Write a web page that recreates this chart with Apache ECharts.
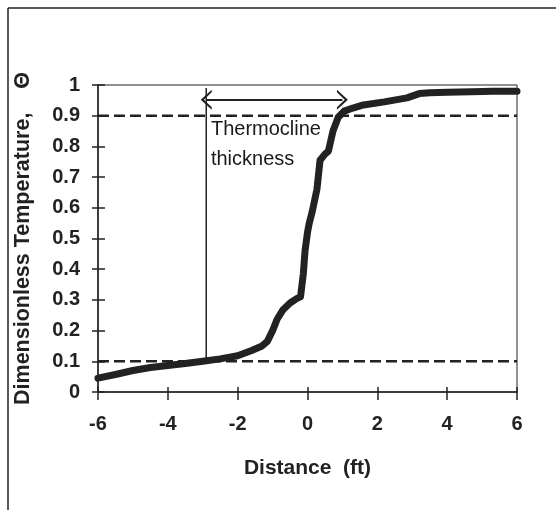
<!DOCTYPE html>
<html>
<head>
<meta charset="utf-8">
<script src="https://cdn.jsdelivr.net/npm/echarts@6/dist/echarts.min.js"></script>
<style>
html,body{margin:0;padding:0;background:#fff;}
#chart{width:556px;height:510px;}
</style>
</head>
<body>
<div id="chart"></div>
<script>
// Measured temperature profile
const distance = [-6, -5.5, -5, -4.5, -4, -3.5, -3, -2.5, -2, -1.6, -1.3, -1.15, -1.0, -0.87, -0.7, -0.5, -0.3, -0.2, -0.12, -0.07, 0.0, 0.05, 0.13, 0.27, 0.36, 0.5, 0.6, 0.73, 0.88, 1.05, 1.3, 1.6, 2.2, 2.85, 3.2, 3.5, 4.0, 4.7, 5.3, 6.0];
const theta    = [0.045, 0.057, 0.07, 0.08, 0.086, 0.093, 0.1, 0.108, 0.118, 0.135, 0.15, 0.165, 0.2, 0.237, 0.268, 0.29, 0.305, 0.31, 0.385, 0.46, 0.52, 0.55, 0.585, 0.66, 0.755, 0.775, 0.785, 0.85, 0.895, 0.915, 0.925, 0.935, 0.945, 0.958, 0.972, 0.975, 0.976, 0.978, 0.98, 0.98];
// Reference levels (dashed)
const levels = [0.1, 0.9];
// Thermocline annotation
const thermoStart = -2.9;
const thermoEnd = 1.0;
const arrowY = 0.952;
const vLineBottom = 0.104;
const vLineTop = 0.99;
const labelPos = [-2.78, 0.805];
// Tick labels
const xTicks = ['-6', '-4', '-2', '0', '2', '4', '6'];
const yTicks = ['0', '0.1', '0.2', '0.3', '0.4', '0.5', '0.6', '0.7', '0.8', '0.9', '1'];

const INK = '#222';
const FONT = 'Liberation Sans, Arial, sans-serif';
const chevron = 'path://M10,0 L20,11 L17.5,11 L10,3.2 L2.5,11 L0,11 Z';

const curve = distance.map((d, i) => [d, theta[i]]);

const chart = echarts.init(document.getElementById('chart'));
const baseX = {type: 'value', min: -6, max: 6, interval: 2, gridIndex: 0};
const baseY = {type: 'value', min: 0, max: 1, interval: 0.1, gridIndex: 0};

chart.setOption({
  backgroundColor: '#fff',
  animation: false,
  graphic: [
    {type: 'line', shape: {x1: 8, y1: 8, x2: 556, y2: 8}, style: {stroke: INK, lineWidth: 1.5}},
    {type: 'line', shape: {x1: 8, y1: 8, x2: 8, y2: 510}, style: {stroke: INK, lineWidth: 1.5}}
  ],
  grid: {left: 98, right: 39, top: 85, bottom: 118, show: true, borderColor: INK, borderWidth: 1, backgroundColor: 'transparent'},
  xAxis: [
    Object.assign({}, baseX, {
      name: 'Distance  (ft)', nameLocation: 'middle', nameGap: 66,
      nameTextStyle: {fontFamily: FONT, fontSize: 21, fontWeight: 'bold', color: INK},
      axisLine: {show: true, onZero: false, lineStyle: {color: INK, width: 1.5}},
      axisTick: {show: true, length: 8, lineStyle: {color: INK, width: 1.5}},
      axisLabel: {margin: 22, fontFamily: FONT, fontSize: 20, fontWeight: 'bold', color: INK,
                  formatter: (v, i) => xTicks[i]},
      splitLine: {show: false}
    }),
    Object.assign({}, baseX, {
      position: 'bottom',
      axisLine: {show: false, onZero: false},
      axisTick: {show: true, inside: true, length: 5, lineStyle: {color: INK, width: 1.5}},
      axisLabel: {show: false}, splitLine: {show: false}
    })
  ],
  yAxis: [
    Object.assign({}, baseY, {
      name: 'Dimensionless Temperature,    Θ', nameLocation: 'middle', nameGap: 64,
      nameTextStyle: {fontFamily: FONT, fontSize: 21.5, fontWeight: 'bold', color: INK},
      axisLine: {show: true, onZero: false, lineStyle: {color: INK, width: 1.5}},
      axisTick: {show: true, length: 6, lineStyle: {color: INK, width: 1.5}},
      axisLabel: {margin: 18, fontFamily: FONT, fontSize: 20, fontWeight: 'bold', color: INK,
                  formatter: (v, i) => yTicks[i]},
      splitLine: {show: false}
    }),
    Object.assign({}, baseY, {
      position: 'left',
      axisLine: {show: false, onZero: false},
      axisTick: {show: true, inside: true, length: 7, lineStyle: {color: INK, width: 1.5}},
      axisLabel: {show: false}, splitLine: {show: false}
    })
  ],
  series: [
    ...levels.map(lv => ({
      type: 'line', xAxisIndex: 0, yAxisIndex: 0, symbol: 'none', silent: true,
      data: [[-6, lv], [6, lv]],
      lineStyle: {color: INK, width: 2.4, type: [11, 5]}
    })),
    {
      type: 'line', xAxisIndex: 0, yAxisIndex: 0, symbol: 'none', silent: true,
      data: [[thermoStart, vLineBottom], [thermoStart, vLineTop]],
      lineStyle: {color: INK, width: 1.5},
      markLine: {
        silent: true, animation: false,
        symbol: [chevron, chevron], symbolSize: [20, 11],
        lineStyle: {color: INK, width: 1.8, type: 'solid'},
        itemStyle: {color: INK},
        label: {show: false},
        data: [[{coord: [thermoStart, arrowY]}, {coord: [thermoEnd, arrowY]}]]
      }
    },
    {
      type: 'line', xAxisIndex: 0, yAxisIndex: 0, symbol: 'none', silent: true,
      data: curve,
      lineStyle: {color: INK, width: 7, cap: 'round', join: 'round'}
    },
    {
      type: 'scatter', xAxisIndex: 0, yAxisIndex: 0, symbolSize: 1, silent: true,
      itemStyle: {color: 'rgba(0,0,0,0)'},
      data: [labelPos],
      label: {show: true, position: 'right', distance: 0, align: 'left', verticalAlign: 'middle',
              formatter: 'Thermocline\nthickness', fontFamily: FONT, fontSize: 20, lineHeight: 30,
              color: '#1a1a1a', opacity: 1}
    }
  ]
});
</script>
</body>
</html>
